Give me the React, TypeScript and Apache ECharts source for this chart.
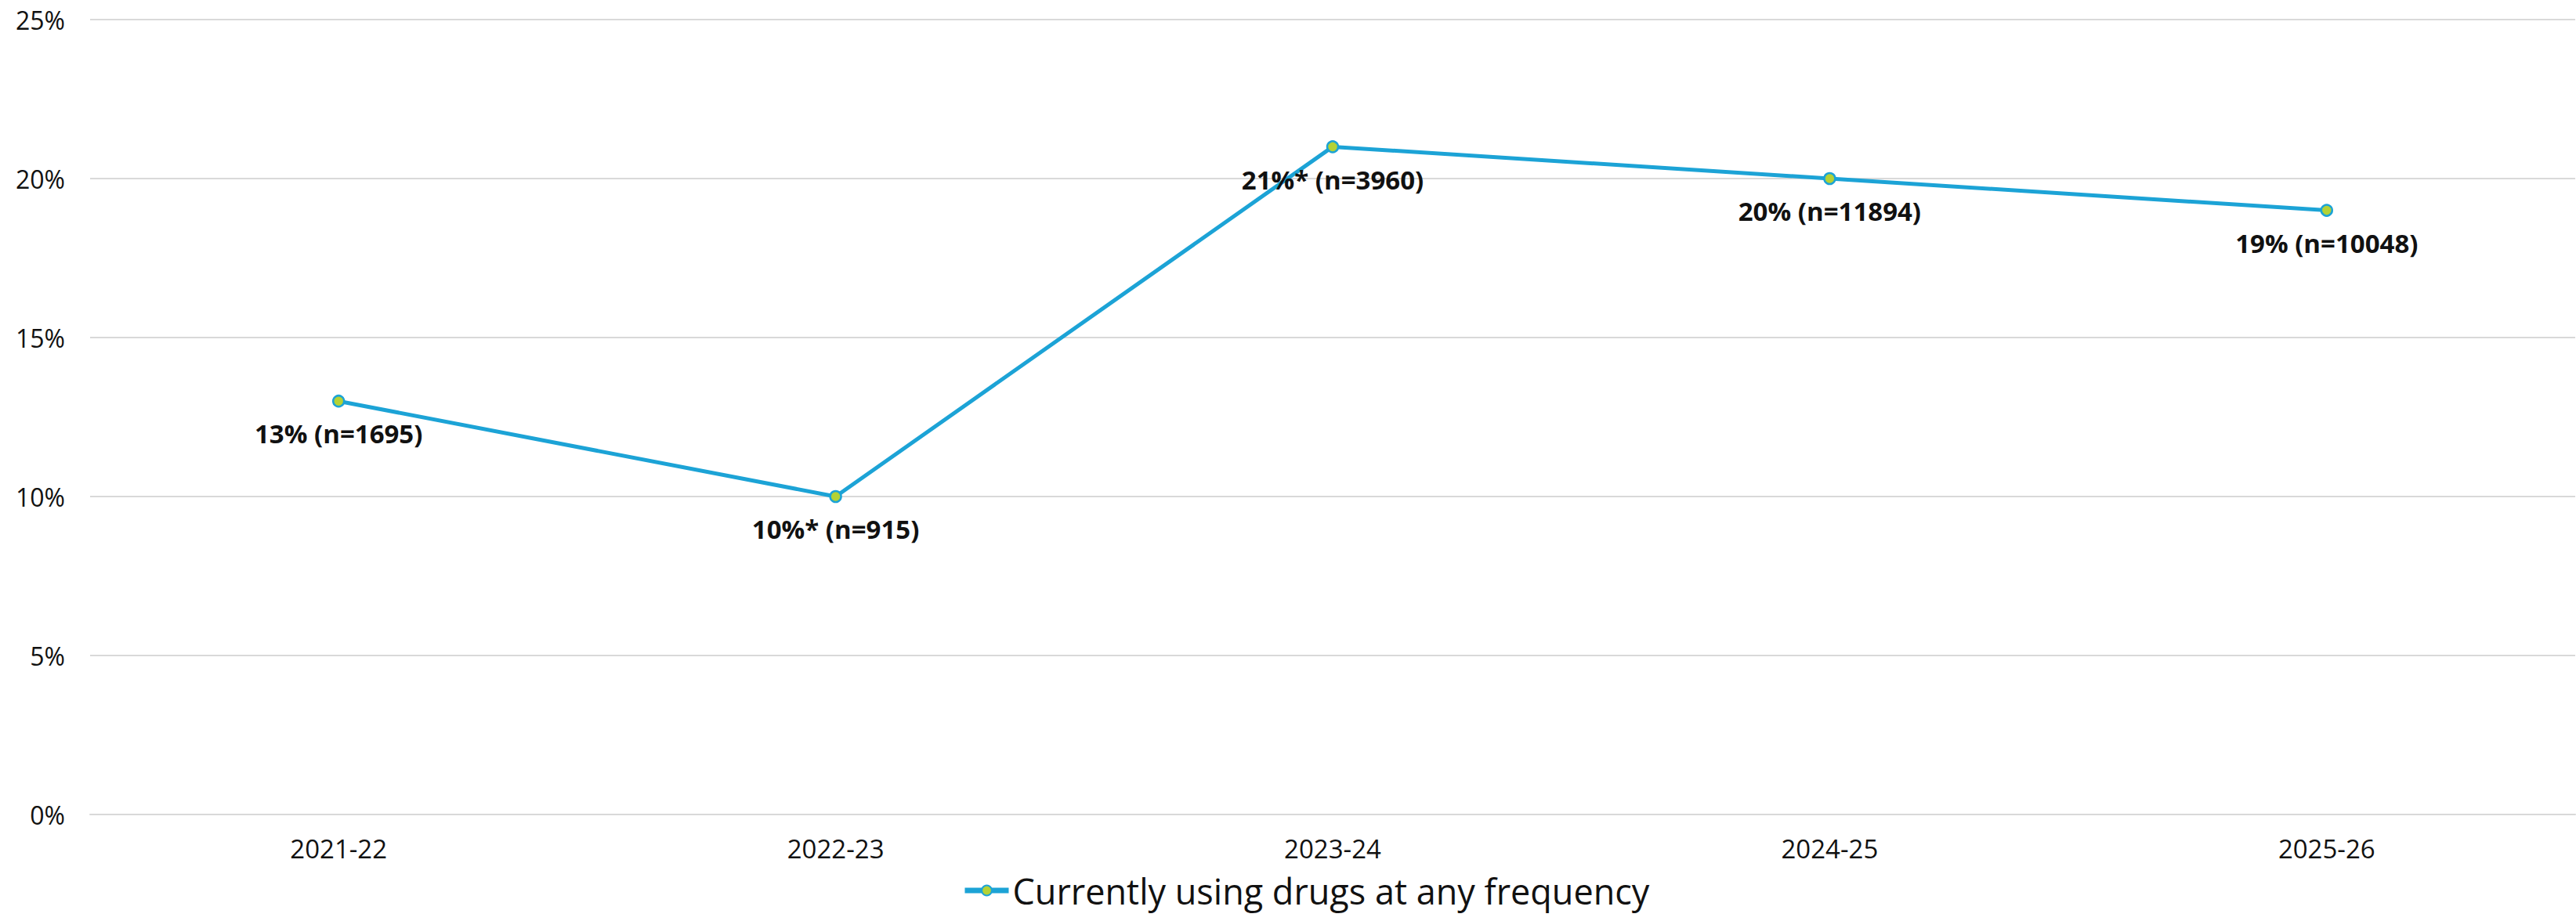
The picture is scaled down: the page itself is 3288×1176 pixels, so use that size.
import React, { useEffect, useRef } from "react";
import * as echarts from "echarts";

const categories = ["2021-22", "2022-23", "2023-24", "2024-25", "2025-26"];
const values = [13, 10, 21, 20, 19];
const sampleSizes = [1695, 915, 3960, 11894, 10048];
const significance = ["", "*", "*", "", ""];
const yTicks = { min: 0, max: 25, interval: 5 };
const seriesName = "Currently using drugs at any frequency";

export default function App() {
  const ref = useRef<HTMLDivElement>(null);
  useEffect(() => {
    if (!ref.current) return;
    const chart = echarts.init(ref.current, undefined, { renderer: "svg" });
    const font = "Open Sans";
    chart.setOption({
      animation: false,
      backgroundColor: "#ffffff",
      grid: { left: 115, right: 1, top: 25, bottom: 136, containLabel: false },
      legend: {
        top: 1112,
        left: 1228,
        padding: 0,
        itemWidth: 56,
        itemHeight: 16,
        itemGap: 6,
        lineStyle: { width: 7 },
        textStyle: { fontFamily: font, fontSize: 45, lineHeight: 50, color: "#111111" },
        data: [seriesName],
      },
      xAxis: {
        type: "category",
        data: categories,
        boundaryGap: true,
        axisLine: { show: true, lineStyle: { color: "#D9D9D9", width: 2 } },
        axisTick: { show: false },
        axisLabel: { fontFamily: font, fontSize: 33, color: "#111111", margin: 27 },
      },
      yAxis: {
        type: "value",
        min: yTicks.min,
        max: yTicks.max,
        interval: yTicks.interval,
        axisLine: { show: false },
        axisTick: { show: false },
        splitLine: { lineStyle: { color: "#D9D9D9", width: 2 } },
        axisLabel: { fontFamily: font, fontSize: 32, color: "#111111", margin: 32, formatter: "{value}%" },
      },
      series: [
        {
          name: seriesName,
          type: "line",
          data: values,
          symbol: "circle",
          symbolSize: 14,
          lineStyle: { color: "#1CA3D6", width: 5 },
          itemStyle: { color: "#B4D235", borderColor: "#1CA3D6", borderWidth: 2.5 },
          label: {
            show: true,
            position: "bottom",
            distance: 17,
            fontFamily: font,
            fontWeight: "bold",
            fontSize: 33,
            color: "#111111",
            formatter: (p: any) =>
              `${values[p.dataIndex]}%${significance[p.dataIndex]} (n=${sampleSizes[p.dataIndex]})`,
          },
        },
      ],
    });
    return () => chart.dispose();
  }, []);
  return (
    <div
      ref={ref}
      style={{ position: "absolute", left: 0, top: 0, width: 3288, height: 1176 }}
    />
  );
}
